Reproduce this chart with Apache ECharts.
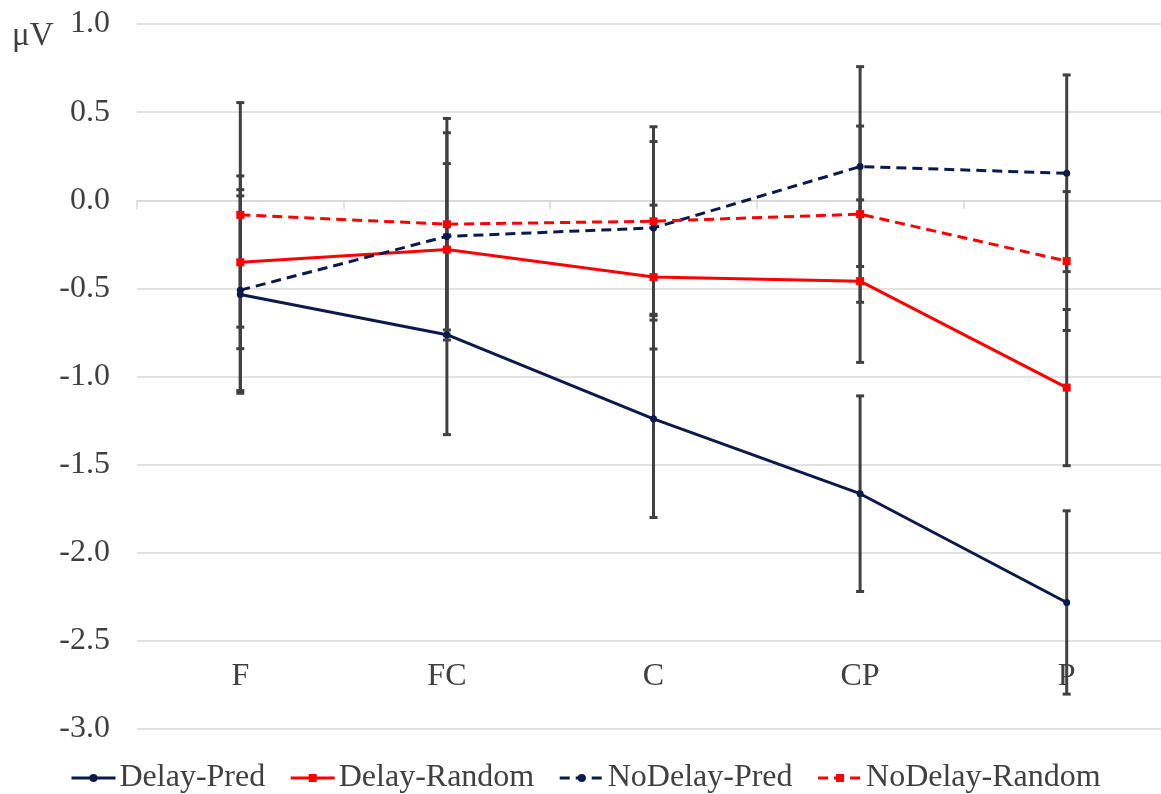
<!DOCTYPE html>
<html>
<head>
<meta charset="utf-8">
<script src="https://cdn.jsdelivr.net/npm/echarts@6/dist/echarts.min.js"></script>
<style>
html,body{margin:0;padding:0;background:#fff;}
#chart{width:1161px;height:794px;}
</style>
</head>
<body>
<div id="chart"></div>
<script>
const categories = ['F', 'FC', 'C', 'CP', 'P'];
const yTicks = { min: -3.0, max: 1.0, interval: 0.5 };
const unitLabel = 'μV';

const delayPred = [-0.535, -0.763, -1.24, -1.665, -2.282];
const delayPredErr = [0.56, 0.567, 0.56, 0.555, 0.52];
const delayRandom = [-0.352, -0.28, -0.436, -0.459, -1.063];
const delayRandomErr = [0.49, 0.488, 0.408, 0.461, 0.443];
const noDelayPred = [-0.51, -0.205, -0.157, 0.191, 0.153];
const noDelayPredErr = [0.57, 0.588, 0.49, 0.567, 0.558];
const noDelayRandom = [-0.083, -0.136, -0.119, -0.079, -0.345];
const noDelayRandomErr = [0.637, 0.6, 0.536, 0.50, 0.394];

const seriesDefs = [
  { name: 'Delay-Pred', values: delayPred, err: delayPredErr, color: '#0b1a4a', dashed: false, symbol: 'circle', size: 7 },
  { name: 'Delay-Random', values: delayRandom, err: delayRandomErr, color: '#ff0000', dashed: false, symbol: 'rect', size: 8 },
  { name: 'NoDelay-Pred', values: noDelayPred, err: noDelayPredErr, color: '#0b1a4a', dashed: true, symbol: 'circle', size: 7 },
  { name: 'NoDelay-Random', values: noDelayRandom, err: noDelayRandomErr, color: '#ff0000', dashed: true, symbol: 'rect', size: 8 }
];

const FONT = '"Liberation Serif", "Times New Roman", serif';
const TEXT = '#404040';

const errData = [];
seriesDefs.forEach(s => {
  s.values.forEach((v, i) => errData.push([i, v - s.err[i], v + s.err[i]]));
});

const chart = echarts.init(document.getElementById('chart'));
const option = {
  backgroundColor: '#fff',
  animation: false,
  graphic: [{
    type: 'text', left: 12, top: 20,
    style: { text: unitLabel, font: '33px ' + FONT, fill: TEXT }
  }],
  legend: {
    data: seriesDefs.map(s => s.name),
    bottom: 0, left: 70, padding: 0,
    itemWidth: 44, itemHeight: 10, itemGap: 24,
    lineStyle: { width: 3 },
    textStyle: { fontFamily: FONT, fontSize: 32, color: TEXT, padding: [0, 0, 0, -1] }
  },
  grid: { left: 137, top: 24, width: 1033, height: 705, containLabel: false, outerBoundsMode: 'none' },
  xAxis: {
    type: 'category', data: categories, boundaryGap: true,
    offset: -88,
    axisLine: { show: true, lineStyle: { color: '#d9d9d9', width: 1.5 } },
    axisTick: { show: true, length: 9, lineStyle: { color: '#d9d9d9', width: 1.5 } },
    axisLabel: { fontFamily: FONT, fontSize: 32, color: TEXT, margin: 20 },
    splitLine: { show: false }
  },
  yAxis: {
    type: 'value', min: yTicks.min, max: yTicks.max, interval: yTicks.interval,
    axisLine: { show: false }, axisTick: { show: false },
    axisLabel: { fontFamily: FONT, fontSize: 32, color: TEXT, margin: 27,
      formatter: v => v.toFixed(1) },
    splitLine: { lineStyle: { color: '#d9d9d9', width: 1.5 } }
  },
  series: [
    {
      type: 'custom', name: 'errorbars', z: 1, silent: true,
      encode: { x: 0, y: [1, 2] },
      data: errData,
      renderItem: (params, api) => {
        const x = api.value(0);
        const lo = api.coord([x, api.value(1)]);
        const hi = api.coord([x, api.value(2)]);
        const hw = 4;
        const st = { stroke: '#404040', lineWidth: 3 };
        return {
          type: 'group', children: [
            { type: 'line', shape: { x1: lo[0], y1: lo[1], x2: hi[0], y2: hi[1] }, style: st },
            { type: 'line', shape: { x1: lo[0] - hw, y1: lo[1], x2: lo[0] + hw, y2: lo[1] }, style: st },
            { type: 'line', shape: { x1: hi[0] - hw, y1: hi[1], x2: hi[0] + hw, y2: hi[1] }, style: st }
          ]
        };
      }
    }
  ].concat(seriesDefs.map(s => ({
    type: 'line', name: s.name, data: s.values, z: 3,
    symbol: s.symbol, symbolSize: s.size, showSymbol: true,
    lineStyle: { color: s.color, width: 3, type: s.dashed ? [10, 6] : 'solid' },
    itemStyle: { color: s.color },
    emphasis: { disabled: true }
  })))
};
chart.setOption(option);
</script>
</body>
</html>
